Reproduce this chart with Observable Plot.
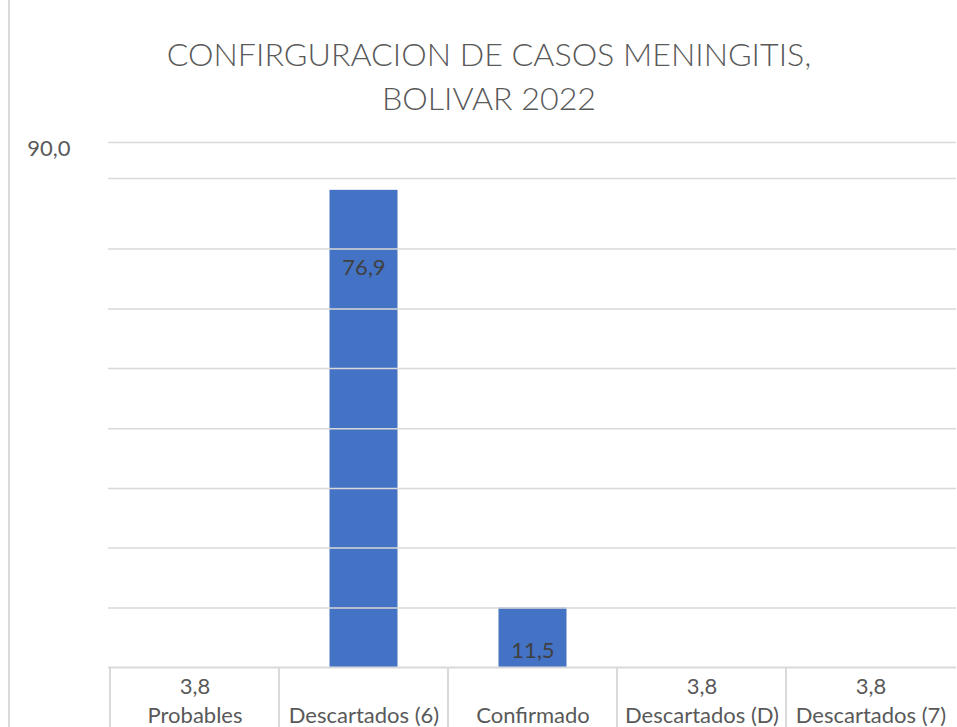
<!DOCTYPE html>
<html>
<head>
<meta charset="utf-8">
<script src="https://cdn.jsdelivr.net/npm/d3@7"></script>
<script src="https://cdn.jsdelivr.net/npm/@observablehq/plot@0.6"></script>
<style>
  html, body { margin: 0; padding: 0; background: #fff; }
  #wrap { position: relative; width: 957px; height: 727px; overflow: hidden; font-family: Lato, "Open Sans", sans-serif; }
  #border { position: absolute; left: 8px; top: 0; width: 2px; height: 727px; background: #d9d9d9; }
  #title { position: absolute; left: 0; width: 978px; top: 32px; text-align: center; font-size: 32.2px; line-height: 44px; color: #595959; font-weight: 300; }
  #chart { position: absolute; left: 0; top: 0; }
</style>
</head>
<body>
<div id="wrap">
  <div id="chart"></div>
  <div id="border"></div>
  <div id="title">CONFIRGURACION DE CASOS MENINGITIS,<br>BOLIVAR 2022</div>
</div>
<script>
const categories = ["Probables", "Descartados (6)", "Confirmado", "Descartados (D)", "Descartados (7)"];
const values = [3.8, 76.9, 11.5, 3.8, 3.8];
const yDomain = [8.77, 95.6];
const yTicks = [90];
const gridValues = [11.5, 15.1, 19.8, 26.0, 34.2, 44.8, 58.9, 81.2, 95.6];

const data = categories.map((c, i) => ({cat: c, value: values[i]}));
const fmt = v => v.toFixed(1).replace(".", ",");
const yMin = yDomain[0];
const visible = data.filter(d => d.value >= yMin);
const hidden = data.filter(d => d.value < yMin);

const gray = "#595959";
const plot = Plot.plot({
  width: 957,
  height: 727,
  marginTop: 142,
  marginBottom: 60,
  marginLeft: 108,
  marginRight: 1,
  style: {fontFamily: "Lato, 'Open Sans', sans-serif", background: "transparent"},
  x: {type: "band", domain: categories, padding: 0, axis: null},
  y: {type: "log", domain: yDomain, axis: null},
  marks: [
    Plot.barY(data, {x: "cat", y1: yMin, y2: "value", fill: "#4472C4", insetLeft: 50.5, insetRight: 50.5, clip: true}),
    Plot.ruleY(gridValues, {stroke: "#d9d9d9", strokeWidth: 1.5}),
    Plot.ruleY([yMin], {stroke: "#d9d9d9", strokeWidth: 2}),
    Plot.text(yTicks, {y: d => d, text: d => fmt(d), frameAnchor: "left", dx: -38, dy: -7, textAnchor: "end", fontSize: 22, fill: gray}),
    Plot.text(visible.filter(d => d.value > 50), {x: "cat", y: "value", text: d => fmt(d.value), dy: 78, fontSize: 22, fill: "#404040"}),
    Plot.text(visible.filter(d => d.value <= 50), {x: "cat", y: "value", text: d => fmt(d.value), dy: 43, fontSize: 22, fill: "#404040"}),
    Plot.text(hidden, {x: "cat", y: yMin, text: d => fmt(d.value), dy: 19, fontSize: 22, fill: gray}),
    Plot.text(data, {x: "cat", y: yMin, text: "cat", dy: 48, fontSize: 22, fill: gray})
  ]
});
document.getElementById("chart").appendChild(plot);

// table cell separators below the axis, placed with the plot's x scale
const xs = plot.scale("x");
const svg = d3.select(plot);
const yPix = plot.scale("y").apply(yMin);
categories.forEach(c => {
  const x0 = xs.apply(c);
  svg.append("line")
    .attr("x1", x0).attr("x2", x0)
    .attr("y1", yPix).attr("y2", 727)
    .attr("stroke", "#d9d9d9").attr("stroke-width", 2);
});
</script>
</body>
</html>
